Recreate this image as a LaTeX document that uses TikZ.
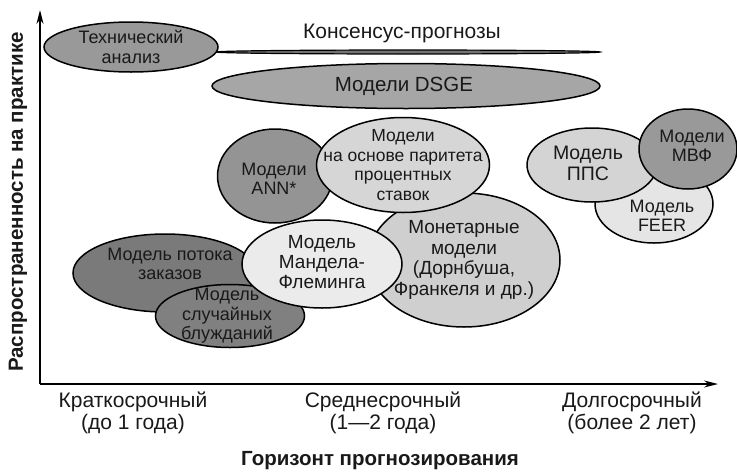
\documentclass[tikz,border=0pt]{standalone}
\usepackage{fontspec}
\setmainfont{Liberation Sans}
\usetikzlibrary{shapes.geometric,arrows.meta}

\tikzset{
  model/.style={ellipse, draw=black, line width=1.5pt, inner sep=0pt},
  inner/.style={align=center, text=black!90, font=\fontsize{18}{19.5}\selectfont},
  horizon/.style={align=center, text=black!90, font=\fontsize{21}{21.5}\selectfont},
  axislabel/.style={text=black!90, font=\fontsize{20.5}{22}\selectfont\bfseries},
  axis/.style={line width=1.3pt, -{Stealth[length=14pt, width=7pt]}}
}

\begin{document}
\begin{tikzpicture}[x=1pt, y=-1pt]
\useasboundingbox (0,0) rectangle (737,472);
% axes:
\coordinate (o) at (40,384);
\coordinate (xend) at (718,384);
\coordinate (yend) at (40,10);
\draw[axis] (o) -- (xend);
\draw[axis] (o) -- (yend);
\node[axislabel, rotate=90] (ylab) at (18,202) {Распространенность на практике};
\node[axislabel] (xlab) at (380,461) {Горизонт прогнозирования};
\node[horizon] (short) at (133,413) {Краткосрочный\\(до 1 года)};
\node[horizon] (medium) at (383,413) {Среднесрочный\\(1—2 года)};
\node[horizon] (long) at (632,413) {Долгосрочный\\(более 2 лет)};
% top row:
\node[model, fill=black!55, line width=1.2pt, minimum width=384pt, minimum height=4pt] (consensus) at (408,52) {};
\node[font=\fontsize{21}{22}\selectfont, text=black!90] (consensuslab) at (402,33) {Консенсус-прогнозы};
\node[model, fill=black!40, minimum width=174pt, minimum height=50pt,
  label={[inner]center:Технический\\анализ}] (tech) at (131,47) {};
\node[model, fill=black!35, minimum width=388pt, minimum height=45pt,
  label={[inner, font=\fontsize{20.5}{22}\selectfont, xshift=-2pt]center:Модели DSGE}] (dsge) at (406,86) {};
% short and medium term:
\node[model, fill=black!52, minimum width=184pt, minimum height=78pt,
  label={[inner, yshift=9pt, xshift=5pt]center:Модель потока\\заказов}] (flow) at (165,273) {};
\node[model, fill=black!50, minimum width=149pt, minimum height=63pt,
  label={[inner, xshift=-3pt]center:Модель\\случайных\\блужданий}] (walk) at (230,316) {};
\node[model, fill=black!42, minimum width=115pt, minimum height=94pt,
  label={[inner, xshift=-1pt, yshift=-3pt]center:Модели\\ANN*}] (ann) at (275,176) {};
\node[model, fill=black!19, minimum width=192pt, minimum height=134pt,
  label={[inner, font=\fontsize{19}{20.5}\selectfont]center:Монетарные\\модели\\(Дорнбуша,\\Франкеля и др.)}] (monetary) at (464,260) {};
\node[model, fill=black!16, minimum width=173pt, minimum height=95pt,
  label={[inner, font=\fontsize{17.5}{19.5}\selectfont]center:Модели\\на основе паритета\\процентных\\ставок}] (parity) at (403,165) {};
\node[model, fill=black!8, minimum width=160pt, minimum height=88pt,
  label={[inner, font=\fontsize{19}{20}\selectfont, yshift=2pt]center:Модель\\Мандела-\\Флеминга}] (mf) at (322,264) {};
% long term:
\node[model, fill=black!10, minimum width=118pt, minimum height=78pt,
  label={[inner, yshift=-12pt, xshift=8pt]center:Модель\\FEER}] (feer) at (654,204) {};
\node[model, fill=black!17, minimum width=130pt, minimum height=74pt,
  label={[inner, font=\fontsize{19.5}{21}\selectfont, xshift=-4pt, yshift=2pt]center:Модель\\ППС}] (ppp) at (592,165) {};
\node[model, fill=black!40, minimum width=98pt, minimum height=80pt,
  label={[inner, xshift=4pt, yshift=3pt]center:Модели\\МВФ}] (imf) at (688,149) {};
\end{tikzpicture}
\end{document}
